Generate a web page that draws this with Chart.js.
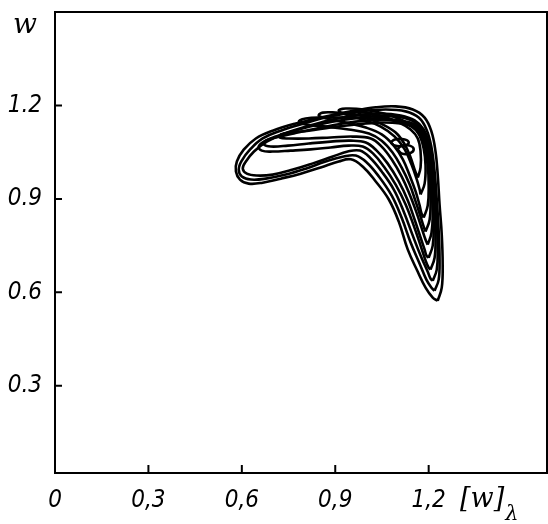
<!DOCTYPE html>
<html>
<head>
<meta charset="utf-8">
<script src="https://cdn.jsdelivr.net/npm/chart.js@4"></script>
<style>
  body { margin: 0; background: #fff; }
  canvas { display: block; }
</style>
</head>
<body>
<canvas id="chart" width="548" height="524"></canvas>
<script>
// ticks
const xTicks = [0, 0.3, 0.6, 0.9, 1.2];
const xTickLabels = ["0", "0,3", "0,6", "0,9", "1,2"];
const yTicks = [0.3, 0.6, 0.9, 1.2];
const yTickLabels = ["0.3", "0.6", "0.9", "1.2"];

// trajectory loops, x = [w]_lambda, y = w (outermost first)
const loop1X = [1.229,1.242,1.245,1.242,1.235,1.229,1.222,1.209,1.187,1.149,1.094,1.030,0.950,0.853,0.773,0.699,0.645,0.606,0.584,0.581,0.594,0.622,0.667,0.725,0.789,0.853,0.911,0.950,0.988,1.030,1.072,1.104,1.133,1.165,1.190,1.213,1.229];
const loop1Y = [0.573,0.615,0.689,0.785,0.882,0.978,1.052,1.116,1.161,1.187,1.197,1.194,1.181,1.161,1.142,1.119,1.094,1.058,1.020,0.988,0.962,0.949,0.952,0.965,0.981,1.001,1.020,1.027,1.004,0.956,0.898,0.827,0.737,0.666,0.615,0.583,0.573];
const loop2X = [1.219,1.232,1.235,1.232,1.226,1.219,1.209,1.193,1.168,1.126,1.062,0.982,0.885,0.799,0.725,0.667,0.626,0.600,0.590,0.600,0.629,0.677,0.741,0.805,0.869,0.927,0.966,1.001,1.040,1.081,1.113,1.142,1.171,1.193,1.209,1.219];
const loop2Y = [0.605,0.640,0.705,0.801,0.898,0.988,1.065,1.123,1.161,1.181,1.187,1.181,1.165,1.142,1.119,1.094,1.058,1.023,0.994,0.972,0.962,0.965,0.978,0.997,1.020,1.036,1.039,1.017,0.972,0.911,0.840,0.760,0.692,0.640,0.615,0.605];
const loop3X = [1.213,1.226,1.229,1.226,1.219,1.213,1.203,1.184,1.155,1.110,1.046,0.966,0.879,0.805,0.738,0.680,0.639,0.613,0.603,0.616,0.648,0.699,0.764,0.828,0.892,0.940,0.979,1.011,1.049,1.088,1.120,1.149,1.174,1.197,1.206,1.213];
const loop3Y = [0.637,0.673,0.737,0.827,0.917,1.001,1.071,1.123,1.152,1.168,1.174,1.168,1.152,1.132,1.110,1.084,1.052,1.020,0.997,0.981,0.975,0.978,0.994,1.014,1.036,1.052,1.055,1.033,0.988,0.930,0.859,0.782,0.718,0.666,0.644,0.637];
const loop4X = [1.206,1.219,1.222,1.219,1.213,1.206,1.197,1.177,1.145,1.094,1.021,0.934,0.847,0.770,0.709,0.671,0.654,0.664,0.699,0.757,0.821,0.885,0.943,0.988,1.021,1.056,1.094,1.126,1.152,1.174,1.190,1.200,1.206];
const loop4Y = [0.673,0.711,0.776,0.859,0.943,1.020,1.081,1.126,1.152,1.165,1.165,1.155,1.139,1.119,1.100,1.084,1.068,1.055,1.052,1.055,1.059,1.065,1.071,1.068,1.046,1.004,0.946,0.882,0.814,0.750,0.702,0.679,0.673];
const loop5X = [1.200,1.213,1.216,1.213,1.206,1.200,1.187,1.165,1.129,1.078,1.008,0.924,0.841,0.767,0.709,0.677,0.671,0.693,0.748,0.815,0.885,0.950,0.998,1.033,1.068,1.104,1.133,1.155,1.174,1.187,1.193,1.200];
const loop5Y = [0.711,0.750,0.814,0.898,0.975,1.043,1.097,1.132,1.148,1.155,1.152,1.142,1.126,1.110,1.097,1.087,1.075,1.068,1.071,1.078,1.084,1.087,1.081,1.055,1.014,0.956,0.895,0.833,0.776,0.737,0.718,0.711];
const loop6X = [1.197,1.209,1.213,1.209,1.203,1.193,1.177,1.152,1.110,1.046,0.966,0.885,0.815,0.757,0.725,0.722,0.751,0.815,0.885,0.956,1.014,1.049,1.081,1.113,1.139,1.161,1.177,1.190,1.197];
const loop6Y = [0.753,0.791,0.856,0.930,1.001,1.062,1.107,1.132,1.142,1.145,1.139,1.129,1.119,1.113,1.107,1.097,1.094,1.094,1.097,1.100,1.094,1.068,1.027,0.972,0.914,0.856,0.808,0.769,0.753];
const loop7X = [1.190,1.203,1.206,1.203,1.197,1.187,1.168,1.136,1.084,1.014,0.934,0.860,0.805,0.783,0.805,0.869,0.943,1.008,1.049,1.084,1.113,1.139,1.158,1.174,1.184,1.190];
const loop7Y = [0.795,0.833,0.898,0.968,1.033,1.084,1.123,1.142,1.152,1.158,1.161,1.161,1.158,1.148,1.139,1.132,1.123,1.110,1.087,1.049,1.001,0.946,0.892,0.843,0.811,0.795];
const loop8X = [1.184,1.197,1.200,1.197,1.187,1.171,1.145,1.104,1.040,0.966,0.901,0.860,0.847,0.873,0.934,0.998,1.049,1.088,1.117,1.139,1.158,1.171,1.177,1.184];
const loop8Y = [0.840,0.879,0.943,1.007,1.065,1.107,1.132,1.148,1.161,1.171,1.177,1.177,1.168,1.158,1.145,1.129,1.107,1.071,1.027,0.975,0.924,0.879,0.853,0.840];
const loop9X = [1.174,1.187,1.190,1.184,1.171,1.149,1.110,1.056,0.992,0.934,0.911,0.934,0.988,1.046,1.091,1.123,1.145,1.161,1.171,1.174];
const loop9Y = [0.914,0.949,1.007,1.062,1.103,1.132,1.155,1.174,1.187,1.190,1.184,1.171,1.155,1.132,1.100,1.059,1.010,0.965,0.930,0.914];
const loop10X = [1.165,1.174,1.174,1.165,1.142,1.104,1.053,1.001,0.975,0.995,1.046,1.094,1.123,1.142,1.155,1.165];
const loop10Y = [0.968,1.001,1.052,1.094,1.123,1.145,1.165,1.177,1.174,1.161,1.142,1.113,1.075,1.033,0.994,0.968];
// two small closed orbits near the upper corner
const smallAX = [1.100,1.113,1.139,1.152,1.139,1.113,1.100];
const smallAY = [1.059,1.071,1.071,1.059,1.046,1.046,1.059];
const smallBX = [1.078,1.091,1.123,1.136,1.123,1.091,1.078];
const smallBY = [1.081,1.091,1.091,1.081,1.071,1.071,1.081];

const loops = [
    [loop1X, loop1Y], [loop2X, loop2Y], [loop3X, loop3Y], [loop4X, loop4Y],
    [loop5X, loop5Y], [loop6X, loop6Y], [loop7X, loop7Y], [loop8X, loop8Y],
    [loop9X, loop9Y], [loop10X, loop10Y], [smallAX, smallAY], [smallBX, smallBY]
];

const labelFont = "'Liberation Sans Narrow', 'DejaVu Sans Condensed', 'DejaVu Sans', sans-serif";

// frame, inward ticks and axis names
const frame = {
    id: "frame",
    afterDraw(chart) {
        const ctx = chart.ctx;
        const a = chart.chartArea;
        const xs = chart.scales.x;
        const ys = chart.scales.y;
        ctx.save();
        ctx.strokeStyle = "#000";
        ctx.lineWidth = 2;
        ctx.strokeRect(a.left, a.top, a.right - a.left, a.bottom - a.top);
        ctx.beginPath();
        xTicks.forEach(v => {
            if (v === 0) return;
            const p = xs.getPixelForValue(v);
            ctx.moveTo(p, a.bottom);
            ctx.lineTo(p, a.bottom - 8);
        });
        yTicks.forEach(v => {
            const p = ys.getPixelForValue(v);
            ctx.moveTo(a.left, p);
            ctx.lineTo(a.left + 7, p);
        });
        ctx.stroke();

        ctx.fillStyle = "#000";
        ctx.textBaseline = "alphabetic";
        ctx.font = "italic 28px 'DejaVu Serif', serif";
        ctx.fillText("w", a.left - 42, a.top + 21);
        ctx.font = "italic 27px 'DejaVu Serif', serif";
        const bx = a.left + 405;
        ctx.fillText("[w]", bx, a.bottom + 34);
        const bw = ctx.measureText("[w]").width;
        ctx.font = "italic 21px 'DejaVu Serif', serif";
        ctx.fillText("λ", bx + bw + 1, a.bottom + 47);
        ctx.restore();
    }
};

const ctx = document.getElementById("chart").getContext("2d");

new Chart(ctx, {
    type: "scatter",
    data: {
        datasets: loops.map(([xs, ys]) => ({
            data: xs.map((x, i) => ({ x: x, y: ys[i] })),
            showLine: true,
            borderColor: "#000",
            borderWidth: 2.6,
            pointRadius: 0,
            tension: 0.4,
            fill: false
        }))
    },
    options: {
        responsive: false,
        animation: false,
        layout: { padding: { top: 12, right: 1, left: 0, bottom: 0 } },
        plugins: {
            legend: { display: false },
            tooltip: { enabled: false }
        },
        scales: {
            x: {
                type: "linear",
                min: 0,
                max: 1.58,
                afterBuildTicks: s => { s.ticks = xTicks.map(v => ({ value: v })); },
                afterFit: s => { s.height = 51; s.paddingLeft = 0; s.paddingRight = 0; },
                grid: { display: false, drawTicks: false },
                border: { display: false },
                ticks: {
                    autoSkip: false,
                    maxRotation: 0,
                    padding: 13,
                    color: "#000",
                    font: { family: labelFont, size: 24, style: "italic" },
                    callback: (v, i) => xTickLabels[i]
                }
            },
            y: {
                type: "linear",
                min: 0.02,
                max: 1.5,
                afterBuildTicks: s => { s.ticks = yTicks.map(v => ({ value: v })); },
                afterFit: s => { s.width = 55; s.paddingTop = 0; s.paddingBottom = 0; },
                grid: { display: false, drawTicks: false },
                border: { display: false },
                ticks: {
                    padding: 13,
                    color: "#000",
                    font: { family: labelFont, size: 24, style: "italic" },
                    callback: (v, i) => yTickLabels[i]
                }
            }
        }
    },
    plugins: [frame]
});
</script>
</body>
</html>
